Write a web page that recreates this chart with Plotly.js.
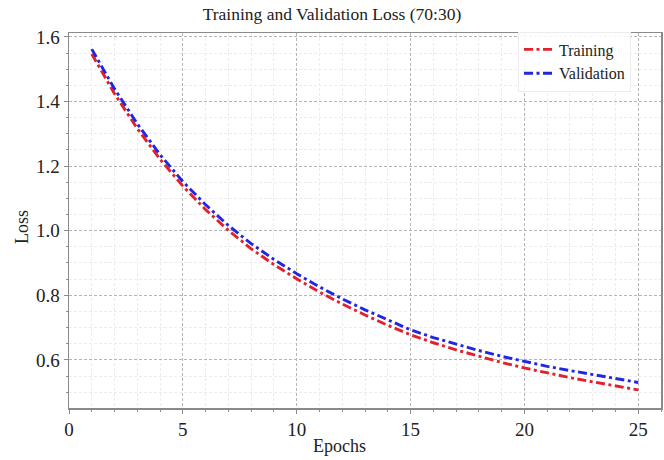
<!DOCTYPE html>
<html>
<head>
<meta charset="utf-8">
<script src="https://cdn.plot.ly/plotly-3.0.1.min.js"></script>
<style>
  html, body { margin: 0; padding: 0; background: #fff; }
  #chart { width: 664px; height: 460px; }
</style>
</head>
<body>
<div id="chart"></div>
<script>
// Loss per epoch for the 70:30 split
const epochs = [1, 2, 3, 4, 5, 6, 7, 8, 9, 10, 11, 12, 13, 14, 15, 16, 17, 18, 19, 20, 21, 22, 23, 24, 25];
const trainingLoss = [1.547, 1.424, 1.316, 1.221, 1.138, 1.065, 1.001, 0.944, 0.895, 0.851,
                      0.810, 0.773, 0.739, 0.707, 0.678, 0.653, 0.631, 0.611, 0.592, 0.575,
                      0.559, 0.545, 0.532, 0.519, 0.507];
const validationLoss = [1.562, 1.439, 1.331, 1.235, 1.152, 1.080, 1.016, 0.960, 0.911, 0.867,
                        0.826, 0.789, 0.755, 0.723, 0.693, 0.669, 0.648, 0.629, 0.611, 0.595,
                        0.580, 0.567, 0.554, 0.542, 0.530];
const seriesNames = ["Training", "Validation"];
const xTicks = [0, 5, 10, 15, 20, 25];
const yTicks = [0.6, 0.8, 1.0, 1.2, 1.4, 1.6];

const serif = "Liberation Serif, Times New Roman, serif";
const dashDot = "9px,3.5px,3px,3.5px";

const traces = [
  {
    x: epochs, y: trainingLoss, name: seriesNames[0], type: "scatter", mode: "lines",
    line: { color: "#e3202b", width: 2.9, dash: dashDot }
  },
  {
    x: epochs, y: validationLoss, name: seriesNames[1], type: "scatter", mode: "lines",
    line: { color: "#2127de", width: 2.9, dash: dashDot }
  }
];

const axisCommon = {
  showline: true, mirror: true, linecolor: "#8a8a8a", linewidth: 1.5,
  ticks: "outside", ticklen: 4, tickwidth: 1, tickcolor: "#8a8a8a",
  showgrid: true, gridcolor: "#b5b5b5", gridwidth: 1, griddash: "3px,2px",
  zeroline: false,
  tickfont: { family: serif, size: 19, color: "#222" }
};

const layout = {
  width: 664, height: 460,
  margin: { l: 69, r: 3, t: 33, b: 52 },
  paper_bgcolor: "#fff", plot_bgcolor: "#fff",
  font: { family: serif, color: "#222" },
  title: {
    text: "Training and Validation Loss (70:30)",
    font: { family: serif, size: 17.5, color: "#222" },
    x: 0.5, xref: "container", y: 1 - 14 / 460, yref: "container", yanchor: "middle"
  },
  xaxis: Object.assign({}, axisCommon, {
    range: [0, 26], tickvals: xTicks, ticktext: xTicks.map(String),
    minor: { dtick: 1, showgrid: true, gridcolor: "#ececec", gridwidth: 1, ticks: "outside", ticklen: 2, tickcolor: "#8a8a8a" }
  }),
  yaxis: Object.assign({}, axisCommon, {
    range: [0.451, 1.612], tickvals: yTicks, ticktext: yTicks.map(v => v.toFixed(1)),
    minor: { dtick: 0.05, tick0: 0, showgrid: true, gridcolor: "#ececec", gridwidth: 1, ticks: "outside", ticklen: 2, tickcolor: "#8a8a8a" }
  }),
  legend: {
    x: (518 - 69) / 592, y: 1.004, xanchor: "left", yanchor: "top",
    bgcolor: "rgba(255,255,255,0.85)", bordercolor: "#ececec", borderwidth: 1,
    font: { family: serif, size: 16, color: "#222" },
    itemwidth: 30, tracegroupgap: 0
  },
  annotations: [
    {
      text: "Epochs", xref: "paper", yref: "paper", x: (339 - 69) / 592, y: (408 - 446) / 375,
      xanchor: "center", yanchor: "middle", showarrow: false,
      font: { family: serif, size: 18, color: "#222" }
    },
    {
      text: "Loss", xref: "paper", yref: "paper", x: (22 - 69) / 592, y: (408 - 227) / 375,
      xanchor: "center", yanchor: "middle", showarrow: false, textangle: -90,
      font: { family: serif, size: 18, color: "#222" }
    }
  ],
  showlegend: true
};

Plotly.newPlot("chart", traces, layout, { displayModeBar: false, staticPlot: true });
</script>
</body>
</html>
